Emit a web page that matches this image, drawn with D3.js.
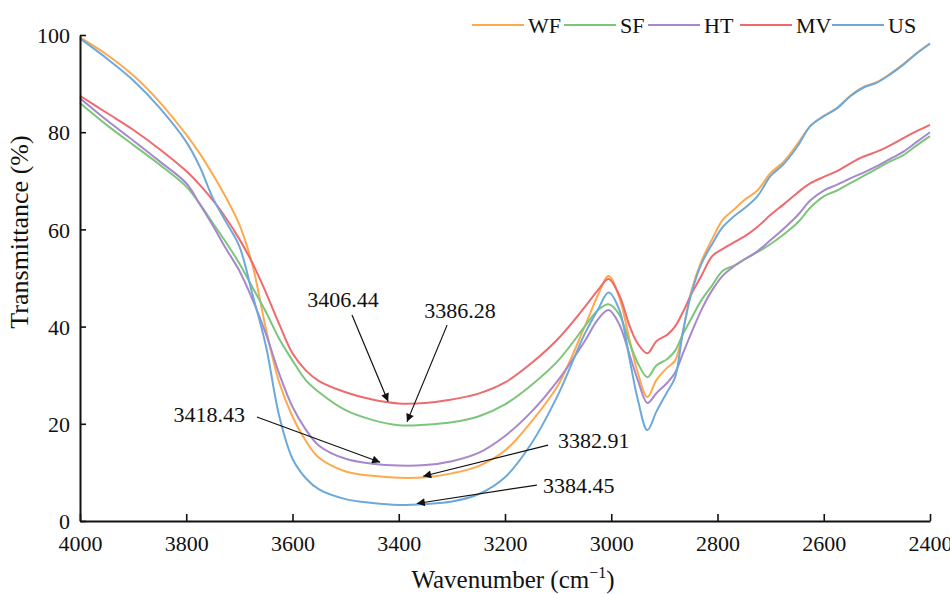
<!DOCTYPE html>
<html><head><meta charset="utf-8">
<script src="https://cdn.jsdelivr.net/npm/d3@7"></script>
</head>
<body style="margin:0"><svg id="c" width="950" height="594" style="font-family:'Liberation Serif',serif;background:#fff"></svg>
<script>
const wavenumbers = [4000,3950,3900,3850,3800,3775,3750,3725,3700,3675,3650,3625,3600,3575,3550,3500,3450,3400,3350,3300,3250,3200,3150,3100,3050,3025,3005,2985,2965,2950,2932,2915,2895,2880,2865,2850,2830,2810,2790,2770,2750,2725,2700,2675,2650,2625,2600,2575,2550,2525,2500,2475,2450,2425,2400];

const WF = [99.5,96,91.7,86.2,79.5,75.7,71.3,66.5,61,52.5,39.5,28.5,21.5,16.5,13,10.2,9.3,8.9,9.0,9.8,11.3,14.5,20.5,28,40,46.5,50.4,46,37,30.5,25.5,29,31.5,33,39,47,53.5,58,62,64,66,68,71.6,74,77.5,81.3,83.3,85,87.5,89.3,90.3,92,94,96.3,98.3];
const SF = [86,81.5,77.4,73.3,68.8,65.3,61.3,57.3,53,48,43,37.5,33,29,26.5,22.8,20.8,19.7,19.8,20.3,21.5,24,28,33,40,43.4,44.6,42.5,36.5,32.5,29.6,32,33.3,35,38.5,41.5,45.5,48.5,51.5,52.5,53.8,55.3,57,59,61.3,64.5,66.8,68,69.5,71,72.5,74,75.3,77.3,79.2];
const HT = [87,82.5,78.3,74,69.5,65.3,60.8,56,51.5,45.5,38.5,30.3,23.5,18.8,15.5,12.8,11.8,11.4,11.5,12.3,14,17.5,22.5,29,37,41.5,43.4,40.5,34,29,24.3,26.3,28.4,30.5,34.5,38.5,43.5,47.5,50.5,52.3,53.8,55.5,57.8,60.2,62.8,66,68,69.2,70.5,71.7,73,74.5,76,78,80];
const MV = [87.5,84,80.5,76.5,72,69.2,66,62.3,58,53,47,40.5,34.5,31,28.8,26.5,25,24.2,24.3,25,26.2,28.5,32.5,37.5,44,47.5,49.8,46.5,40,36.5,34.5,37,38.3,40,43,46.5,50.5,54.5,56,57.3,58.5,60.5,63,65.2,67.5,69.5,70.8,72,73.6,75,76,77.3,78.8,80.2,81.5];
const US = [99.3,95.2,90.7,85,78,73,66.5,61.5,56.5,46.5,36,21.6,12.8,8.8,6.5,4.5,3.7,3.3,3.5,4.0,5.5,9,16,26,38.5,43.5,47,43.5,33,25,18.7,22.5,26.5,29.5,39,46.5,53,57,60.5,62.6,64.3,66.8,71,73.5,77,81.3,83.3,84.9,87.4,89.2,90.2,91.9,93.9,96.2,98.2];

const seriesNames = ["WF","SF","HT","MV","US"];
const seriesValues = [WF,SF,HT,MV,US];
const seriesColors = ["#FFA94F","#7CC67A","#A688CC","#EF6A6E","#6CA9DA"];

const xTicks = [4000,3800,3600,3400,3200,3000,2800,2600,2400];
const yTicks = [0,20,40,60,80,100];

// annotations: label, arrow tip (wavenumber, T), arrow tail (wavenumber, T)
const annLabels = ["3406.44","3386.28","3418.43","3382.91","3384.45"];
const annTipW = [3420,3384.5,3435,3354,3366];
const annTipT = [24.6,20.4,12.1,9.2,3.6];
const annTailW = [3488,3309,3667,3119,3140];
const annTailT = [42.4,40.3,21.4,15.6,7.4];

const FONT = "Liberation Serif";
const INK = "#111";
const svg = d3.select("#c");
const L=80,R=930,T=35,B=521;
const x = d3.scaleLinear().domain([4000,2400]).range([L,R]);
const y = d3.scaleLinear().domain([0,100]).range([B,T]);

// lines
const line = d3.line().x(d=>x(d[0])).y(d=>y(d[1])).curve(d3.curveCatmullRom.alpha(0.5));
seriesValues.forEach((vals,i)=>{
  svg.append("path").datum(wavenumbers.map((w,j)=>[w,vals[j]]))
    .attr("d",line).attr("fill","none").attr("stroke",seriesColors[i]).attr("stroke-width",2);
});

// axes
const xAxis = d3.axisBottom(x).tickValues(xTicks).tickSizeInner(-7).tickSizeOuter(0).tickPadding(14).tickFormat(d3.format("d"));
const gx = svg.append("g").attr("transform",`translate(0,${B})`).call(xAxis);
const yAxis = d3.axisLeft(y).tickValues(yTicks).tickSizeInner(-6).tickSizeOuter(0).tickPadding(10);
const gy = svg.append("g").attr("transform",`translate(${L},0)`).call(yAxis);
[gx,gy].forEach(g=>{
  g.attr("font-family",null).attr("font-size",null);
  g.select(".domain").attr("stroke",INK).attr("stroke-width",2);
  g.selectAll(".tick line").attr("stroke",INK).attr("stroke-width",1.6);
  g.selectAll(".tick text").attr("fill",INK).style("font-family",FONT).style("font-size","22px");
});
gy.selectAll(".tick text").attr("dy","0.35em");

// axis titles
const xt = svg.append("text").attr("x",(L+R)/2+8).attr("y",588).attr("text-anchor","middle")
  .attr("fill",INK).style("font-family",FONT).style("font-size","25px");
xt.append("tspan").text("Wavenumber (cm");
xt.append("tspan").attr("dy",-10).style("font-size","16px").text("\u22121");
xt.append("tspan").attr("dy",10).text(")");
svg.append("text").attr("transform","translate(28,232) rotate(-90)").attr("text-anchor","middle")
  .attr("fill",INK).style("font-family",FONT).style("font-size","26px").text("Transmittance (%)");

// legend
const lg = svg.append("g");
const legendTextW = seriesNames.map(n=>n.length*15);
let lx = 472;
seriesNames.forEach((n,i)=>{
  lg.append("line").attr("x1",lx).attr("x2",lx+52).attr("y1",25).attr("y2",25).attr("stroke",seriesColors[i]).attr("stroke-width",2);
  lg.append("text").attr("x",lx+56).attr("y",33).attr("fill",INK).style("font-family",FONT).style("font-size","22px").text(n);
  lx = lx+56+legendTextW[i]+ (n==="SF"?-2:6);
});

// arrow marker
svg.append("defs").append("marker").attr("id","ah").attr("viewBox","0 0 10 10").attr("refX",10).attr("refY",5)
  .attr("markerWidth",12).attr("markerHeight",8).attr("markerUnits","userSpaceOnUse").attr("orient","auto")
  .append("path").attr("d","M0,0 L10,5 L0,10 Z").attr("fill",INK);

const labelOffsets = [[-9,-8,"middle"],[13,-7,"middle"],[-12,5,"end"],[10,3,"start"],[6,8,"start"]];
annLabels.forEach((lab,i)=>{
  const x1=x(annTailW[i]), y1=y(annTailT[i]), x2=x(annTipW[i]), y2=y(annTipT[i]);
  svg.append("line").attr("x1",x1).attr("y1",y1).attr("x2",x2).attr("y2",y2)
    .attr("stroke",INK).attr("stroke-width",1.2).attr("marker-end","url(#ah)");
  svg.append("text").attr("x",x1+labelOffsets[i][0]).attr("y",y1+labelOffsets[i][1])
    .attr("text-anchor",labelOffsets[i][2]).attr("fill",INK).style("font-family",FONT).style("font-size","22px").text(lab);
});
</script></body></html>
